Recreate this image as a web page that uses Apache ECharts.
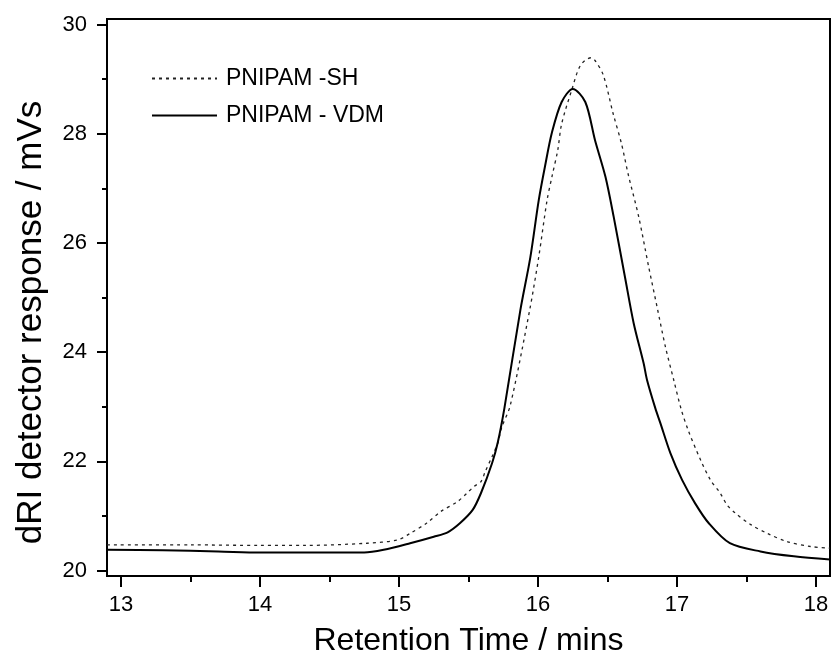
<!DOCTYPE html>
<html>
<head>
<meta charset="utf-8">
<script src="https://cdn.jsdelivr.net/npm/echarts@6/dist/echarts.min.js"></script>
<style>html,body{margin:0;padding:0;background:#fff}#c{width:832px;height:666px}</style>
</head>
<body>
<div id="c"></div>
<script>
// Retention time (min) and detector response (mV s)
const shX = [12.9,13.5,14.0,14.32,14.77,14.99,15.08,15.20,15.30,15.42,15.49,15.54,15.59,15.62,15.67,15.71,15.74,15.80,15.94,16.005,16.065,16.10,16.142,16.17,16.245,16.305,16.38,16.41,16.47,16.54,16.60,16.65,16.724,16.796,16.856,16.916,16.976,17.03,17.08,17.17,17.24,17.31,17.36,17.42,17.53,17.65,17.79,17.96,18.1];
const shY = [20.47,20.47,20.46,20.46,20.50,20.56,20.68,20.87,21.08,21.26,21.42,21.54,21.63,21.81,22.09,22.33,22.63,23.02,24.77,25.74,26.78,27.21,27.70,28.18,28.82,29.25,29.39,29.34,29.07,28.37,27.82,27.24,26.48,25.56,24.83,24.10,23.49,22.95,22.57,22.02,21.66,21.42,21.20,21.05,20.84,20.68,20.53,20.44,20.41];
const vdmX = [12.9,13.3,13.7,14.0,14.3,14.75,14.89,15.08,15.25,15.35,15.44,15.53,15.59,15.67,15.71,15.758,15.873,15.945,16.005,16.05,16.10,16.17,16.25,16.34,16.41,16.485,16.544,16.625,16.688,16.76,16.784,16.844,16.88,16.952,17.036,17.13,17.227,17.38,17.6,17.84,18.1];
const vdmY = [20.38,20.37,20.35,20.33,20.33,20.33,20.38,20.50,20.62,20.70,20.87,21.11,21.42,21.97,22.34,22.97,24.77,25.74,26.78,27.40,28.02,28.58,28.82,28.58,27.88,27.21,26.48,25.38,24.53,23.79,23.49,22.97,22.70,22.15,21.66,21.23,20.87,20.50,20.35,20.26,20.20];
const xMajor = [13,14,15,16,17,18];
const xMinor = [13.5,14.5,15.5,16.5,17.5];
const yMajor = [20,22,24,26,28,30];
const yMinor = [21,23,25,27,29];
const names = ['PNIPAM -SH','PNIPAM - VDM'];

const font = '"Liberation Sans", Arial, sans-serif';
const zip = (a,b) => a.map((v,i)=>[v,b[i]]);
const chart = echarts.init(document.getElementById('c'));
const axisLine = {show:true, onZero:false, lineStyle:{color:'#000', width:2}};
const legendBase = {orient:'vertical', left:151, padding:0, itemWidth:65, itemHeight:14,
  itemStyle:{opacity:0}, textStyle:{fontFamily:font, fontSize:23, color:'#000', padding:[0,0,0,4]}};
chart.setOption({
  animation:false,
  backgroundColor:'#fff',
  grid:{left:107, right:2, top:19, bottom:90, show:true, borderColor:'#000', borderWidth:2, backgroundColor:'transparent'},
  legend:[
    Object.assign({data:[names[0]], top:67}, legendBase),
    Object.assign({data:[names[1]], top:104}, legendBase)
  ],
  xAxis:[
    {type:'value', min:12.9, max:18.1, position:'bottom',
     name:'Retention Time / mins', nameLocation:'middle', nameGap:49,
     nameTextStyle:{fontFamily:font, fontSize:32, color:'#000'},
     axisLine:axisLine, splitLine:{show:false},
     axisTick:{show:true, customValues:xMajor, length:11, lineStyle:{color:'#000', width:2}},
     axisLabel:{customValues:xMajor, margin:18, fontFamily:font, fontSize:22, color:'#000'}},
    {type:'value', min:12.9, max:18.1, position:'bottom',
     axisLine:{show:false}, splitLine:{show:false},
     axisTick:{show:true, customValues:xMinor, length:6, lineStyle:{color:'#000', width:2}},
     axisLabel:{show:false}}
  ],
  yAxis:[
    {type:'value', min:19.9, max:30.1, position:'left',
     name:'dRI detector response / mVs', nameLocation:'middle', nameGap:58, nameRotate:90,
     nameTextStyle:{fontFamily:font, fontSize:35, color:'#000', padding:[0,50,0,0]},
     axisLine:axisLine, splitLine:{show:false},
     axisTick:{show:true, customValues:yMajor, length:10, lineStyle:{color:'#000', width:2}},
     axisLabel:{customValues:yMajor, margin:20, fontFamily:font, fontSize:22, color:'#000'}},
    {type:'value', min:19.9, max:30.1, position:'left',
     axisLine:{show:false}, splitLine:{show:false},
     axisTick:{show:true, customValues:yMinor, length:5, lineStyle:{color:'#000', width:2}},
     axisLabel:{show:false}}
  ],
  series:[
    {name:names[0], type:'line', xAxisIndex:0, yAxisIndex:0, data:zip(shX,shY), symbol:'none', showSymbol:false,
     smooth:0.3,
     lineStyle:{color:'#222', width:1.3, type:[3,4]}, itemStyle:{color:'#222'}},
    {name:names[1], type:'line', xAxisIndex:0, yAxisIndex:0, data:zip(vdmX,vdmY), symbol:'none', showSymbol:false,
     smooth:0.3,
     lineStyle:{color:'#000', width:2}, itemStyle:{color:'#000'}}
  ]
});
</script>
</body>
</html>
